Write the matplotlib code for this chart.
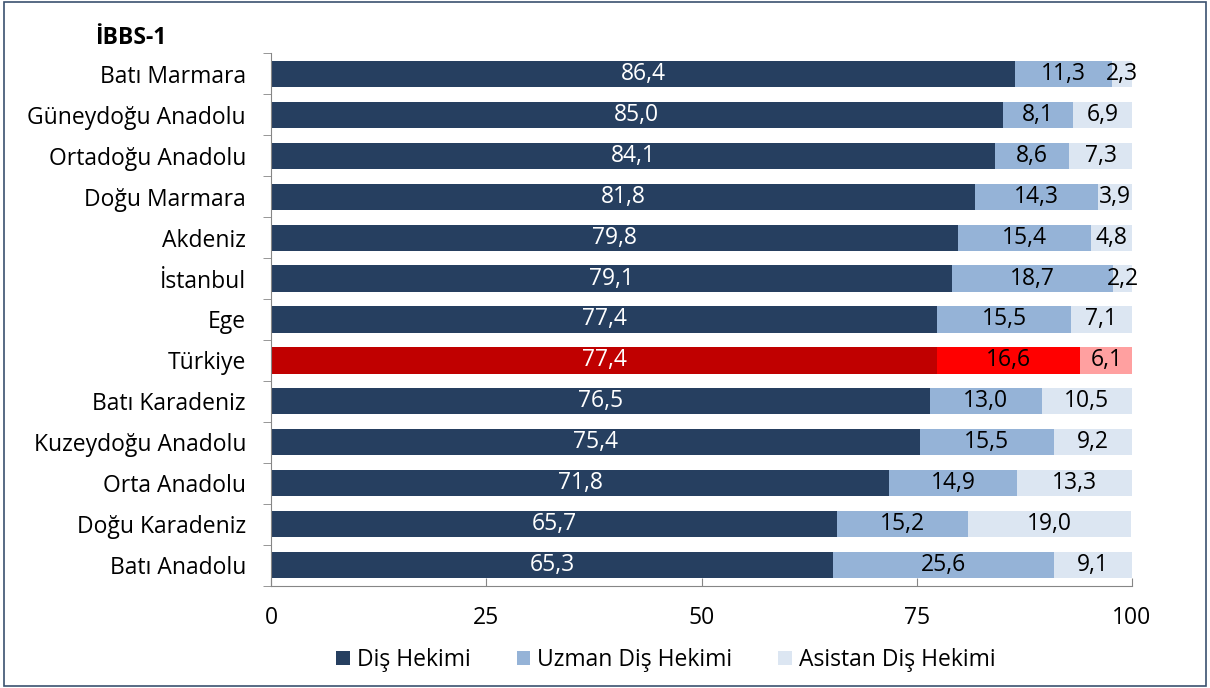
import matplotlib
matplotlib.use("Agg")
import matplotlib.pyplot as plt
from matplotlib.patches import Rectangle

plt.rcParams['font.family'] = ['Open Sans', 'DejaVu Sans']

regions = ["Batı Marmara", "Güneydoğu Anadolu", "Ortadoğu Anadolu", "Doğu Marmara",
           "Akdeniz", "İstanbul", "Ege", "Türkiye", "Batı Karadeniz",
           "Kuzeydoğu Anadolu", "Orta Anadolu", "Doğu Karadeniz", "Batı Anadolu"]
dis_hekimi = [86.4, 85.0, 84.1, 81.8, 79.8, 79.1, 77.4, 77.4, 76.5, 75.4, 71.8, 65.7, 65.3]
uzman = [11.3, 8.1, 8.6, 14.3, 15.4, 18.7, 15.5, 16.6, 13.0, 15.5, 14.9, 15.2, 25.6]
asistan = [2.3, 6.9, 7.3, 3.9, 4.8, 2.2, 7.1, 6.1, 10.5, 9.2, 13.3, 19.0, 9.1]
series_names = ["Diş Hekimi", "Uzman Diş Hekimi", "Asistan Diş Hekimi"]
xticks = [0, 25, 50, 75, 100]

colors = ["#263F60", "#95B3D7", "#DCE6F2"]
highlight = {"Türkiye": ["#C00000", "#FF0000", "#FFA0A0"]}

FS = 16.5

fig = plt.figure(figsize=(12.1, 6.88), dpi=100)
ax = fig.add_axes([271/1210, 1-585.5/688, (1132-271)/1210, (585.5-53.5)/688])

n = len(regions)
ypos = list(range(n))
lefts = [0.0]*n
for si, vals in enumerate([dis_hekimi, uzman, asistan]):
    cols = [highlight.get(r, colors)[si] for r in regions]
    ax.barh(ypos, vals, left=lefts, height=0.64, color=cols, label=series_names[si])
    for i, v in enumerate(vals):
        tc = "white" if si == 0 else "black"
        ax.text(lefts[i] + v/2, i, f"{v:.1f}".replace(".", ","), ha="center", va="center",
                color=tc, fontsize=FS)
    lefts = [l + v for l, v in zip(lefts, vals)]

ax.set_ylim(n - 0.5, -0.5)
ax.set_xlim(0, 100)
ax.set_xticks(xticks)
ax.set_xticklabels([str(t) for t in xticks], fontsize=FS)
ax.set_yticks(ypos)
ax.set_yticklabels(regions, fontsize=FS)
ax.tick_params(axis='y', length=0, pad=18)
ax.set_yticks([i - 0.5 for i in range(n + 1)], minor=True)
ax.tick_params(axis='y', which='minor', length=6, color="#868686", direction='out')
ax.tick_params(axis='x', length=6, color="#868686", direction='in', pad=15)
for s in ["top", "right"]:
    ax.spines[s].set_visible(False)
for s in ["left", "bottom"]:
    ax.spines[s].set_color("#868686")

fig.text(95/1210, 1-38/688, "İBBS-1", fontsize=FS, fontweight="bold", ha="left", va="center")

leg = fig.legend(loc="center", bbox_to_anchor=(666/1210, 1-660/688), ncol=3, frameon=False,
                 fontsize=FS, handlelength=0.6, handleheight=0.6, handletextpad=0.3,
                 columnspacing=2.0)

fig.patches.append(Rectangle((0.003, 0.003), 0.994, 0.994, transform=fig.transFigure,
                             fill=False, edgecolor="#3B5170", linewidth=1.2))

fig.savefig("out.png", dpi=100)
